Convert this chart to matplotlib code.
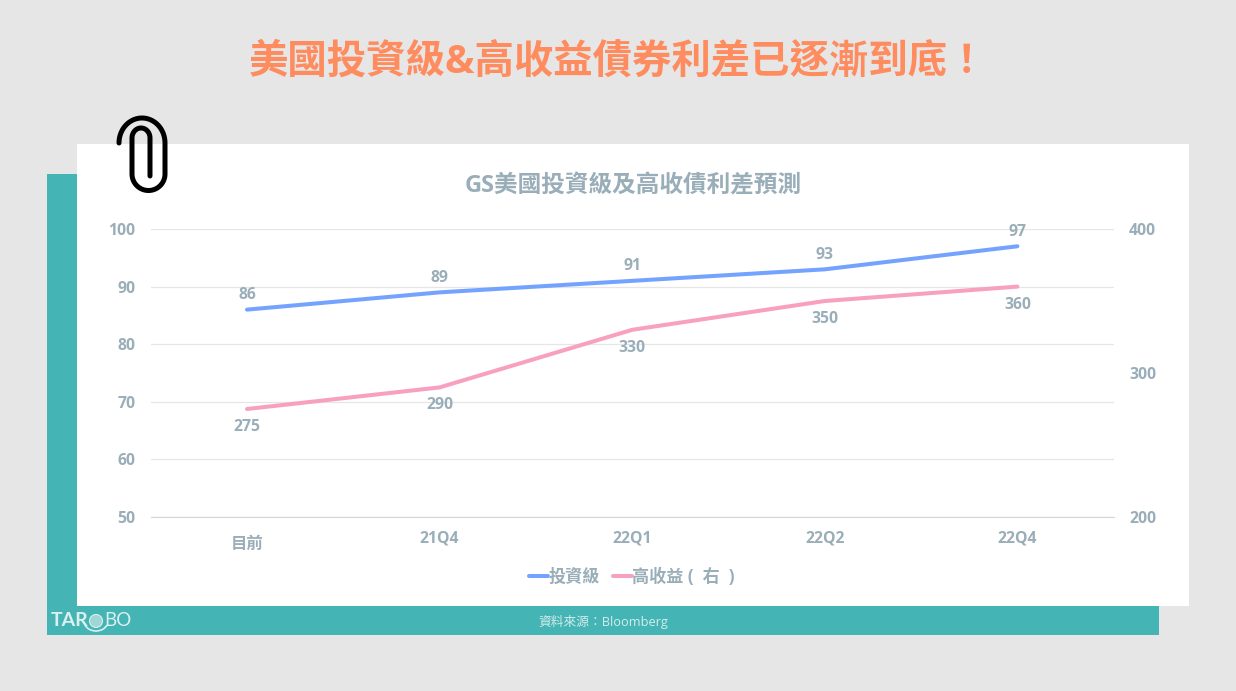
import numpy as np
import matplotlib
matplotlib.use("Agg")
import matplotlib.pyplot as plt
from matplotlib.patches import Rectangle, Circle, Arc
from matplotlib.transforms import ScaledTranslation

plt.rcParams['font.family'] = ['Open Sans', 'Noto Sans CJK TC', 'DejaVu Sans']

# data
categories = ['目前', '21Q4', '22Q1', '22Q2', '22Q4']
invest_grade = [86, 89, 91, 93, 97]
high_yield = [275, 290, 330, 350, 360]
left_ticks = [50, 60, 70, 80, 90, 100]
right_ticks = [200, 300, 400]

W, H = 1236, 691
BG = '#E6E6E6'
TEAL = '#45B4B4'
GREY = '#9AAEB9'
BLUE = '#74A3FF'
PINK = '#F8A0C0'
PX = 72 / 100  # pixels -> points

fig = plt.figure(figsize=(W / 100, H / 100), dpi=100, facecolor=BG)

# background layer in pixel coordinates
bg = fig.add_axes([0, 0, 1, 1], zorder=0)
bg.set_xlim(0, W)
bg.set_ylim(H, 0)
bg.axis('off')
bg.add_patch(Rectangle((47, 174), 40, 461, color=TEAL, lw=0))
bg.add_patch(Rectangle((47, 606), 1112, 29, color=TEAL, lw=0))
bg.add_patch(Rectangle((77, 144), 1112, 462, color='white', lw=0))

bg.text(618, 62, '美國投資級&高收益債券利差已逐漸到底！', color='#FF8C5F', fontsize=28.4,
        fontweight='bold', ha='center', va='center')
bg.text(633, 187, 'GS美國投資級及高收債利差預測', color=GREY, fontsize=17,
        fontweight='bold', ha='center', va='center')
bg.text(603, 622, '資料來源：Bloomberg', color='#D5ECEC', fontsize=9.2, ha='center', va='center')

# paper clip
t1 = np.linspace(np.pi, 2 * np.pi, 40)
t2 = np.linspace(0, np.pi, 40)
t3 = np.linspace(np.pi, 2 * np.pi, 30)
clip_x = np.concatenate([142 + 23 * np.cos(t1), 148.5 + 16.5 * np.cos(t2), 141 + 9 * np.cos(t3), [150]])
clip_y = np.concatenate([143 + 25 * np.sin(t1), 174 + 16.5 * np.sin(t2), 138 + 10 * np.sin(t3), [176]])
bg.plot(clip_x, clip_y, color='black', lw=5 * PX, solid_capstyle='round', solid_joinstyle='round')

# logo
LOGO = '#DDF0F0'
bg.text(51, 620, 'TAR', color=LOGO, fontsize=14, fontweight='bold', ha='left', va='center',
        family=['Lato', 'DejaVu Sans'])
bg.add_patch(Circle((96, 621), 6.5, facecolor='#9FD6D6', edgecolor=LOGO, lw=0.8))
bg.add_patch(Arc((96, 621), 24, 20, theta1=20, theta2=160, color=LOGO, lw=1.2))
bg.text(104, 621, 'BO', color=LOGO, fontsize=13.5, ha='left', va='center',
        family=['Lato', 'DejaVu Sans'])

# chart
ax = fig.add_axes([150.7 / W, 1 - 517 / H, 963 / W, 288 / H], zorder=2)
ax.patch.set_alpha(0)
x = np.arange(len(categories))
ax.set_xlim(-0.5, len(categories) - 0.5)
ax.set_ylim(50, 100)
ax.set_yticks(left_ticks)
ax.set_xticks(x, categories)
ax.grid(axis='y', color='#E6E6E6', lw=0.9)
ax.set_axisbelow(True)
for s in ['top', 'left', 'right']:
    ax.spines[s].set_visible(False)
ax.spines['bottom'].set_color('#D6D6D6')
ax.tick_params(axis='both', length=0, labelcolor=GREY, labelsize=11.3)
ax.tick_params(axis='x', pad=10)
ax.tick_params(axis='y', pad=11)
for lab in ax.get_xticklabels() + ax.get_yticklabels():
    lab.set_fontweight('bold')
# 目前 sits a little lower than the quarter labels
first = ax.get_xticklabels()[0]
first.set_fontsize(11.8)
first.set_transform(first.get_transform() + ScaledTranslation(0, -6 / 100, fig.dpi_scale_trans))

ax2 = ax.twinx()
ax2.set_ylim(200, 400)
ax2.set_yticks(right_ticks)
for s in ax2.spines.values():
    s.set_visible(False)
ax2.tick_params(axis='y', length=0, labelcolor=GREY, labelsize=11.3, pad=11)
for lab in ax2.get_yticklabels():
    lab.set_fontweight('bold')

line1, = ax.plot(x, invest_grade, color=BLUE, lw=2.9, solid_capstyle='round', label='投資級')
line2, = ax2.plot(x, high_yield, color=PINK, lw=2.9, solid_capstyle='round', label='高收益 (  右  )')

for xi, v in zip(x, invest_grade):
    ax.annotate(str(v), (xi, v), xytext=(0, 10.5), textcoords='offset points', ha='center',
                va='center', color=GREY, fontsize=11.3, fontweight='bold')
for xi, v in zip(x, high_yield):
    ax2.annotate(str(v), (xi, v), xytext=(0, -13), textcoords='offset points', ha='center',
                 va='center', color=GREY, fontsize=11.3, fontweight='bold')

leg = fig.legend(handles=[line1, line2], loc='center', bbox_to_anchor=(632 / W, 1 - 577 / H), ncol=2,
                 frameon=False, fontsize=12.3, labelcolor=GREY, handlelength=1.1, handletextpad=0,
                 columnspacing=0.8)
for t in leg.get_texts():
    t.set_fontweight('bold')

fig.savefig('out.png', dpi=100, facecolor=BG)
